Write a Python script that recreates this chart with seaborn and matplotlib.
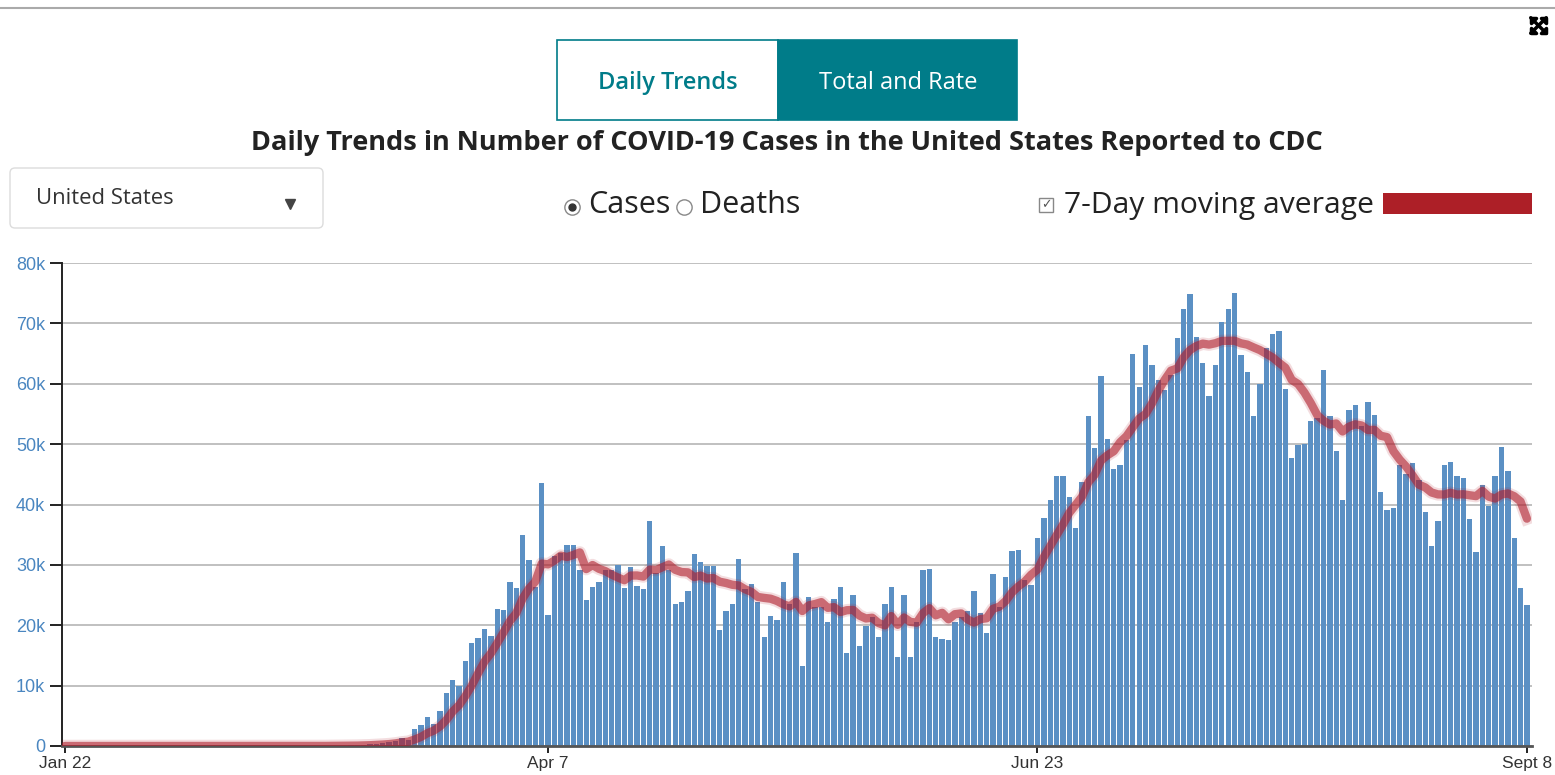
import numpy as np
import pandas as pd
import matplotlib
matplotlib.use("Agg")
import matplotlib.pyplot as plt
import seaborn as sns
from matplotlib.patches import Rectangle, FancyBboxPatch, FancyArrowPatch
from matplotlib.lines import Line2D
from matplotlib.ticker import FuncFormatter

# daily new cases, Jan 22 .. Sept 8 (thousands)
cases_k = [
    0, 0, 0, 0, 0, 0, 0, 0, 0, 0,
    0, 0, 0, 0, 0, 0, 0, 0, 0, 0,
    0, 0, 0, 0, 0, 0, 0, 0, 0, 0,
    0, 0, 0, 0, 0, 0, 0, 0, 0.01, 0.02,
    0.02, 0.03, 0.05, 0.06, 0.07, 0.1, 0.12, 0.2, 0.3, 0.4,
    0.5, 0.6, 0.9, 1.3, 1.0, 2.8, 3.4, 4.8, 3.6, 5.8,
    8.8, 10.9, 10.0, 14.0, 17.0, 17.9, 19.3, 18.3, 22.7, 22.6,
    27.1, 26.2, 34.9, 30.8, 26.4, 43.5, 21.7, 31.5, 31.9, 33.3,
    33.3, 29.2, 24.2, 26.4, 27.2, 29.2, 29.2, 29.9, 26.1, 29.6,
    26.5, 26.0, 37.3, 28.6, 33.2, 29.2, 23.5, 23.9, 25.6, 31.8,
    30.4, 29.8, 29.8, 19.2, 22.4, 23.5, 31.0, 26.0, 26.8, 23.9,
    18.1, 21.5, 20.9, 27.2, 23.5, 32.0, 13.3, 24.6, 23.1, 23.1,
    20.6, 24.3, 26.3, 15.4, 25.0, 16.5, 19.8, 21.4, 18.1, 23.6,
    26.3, 14.8, 25.0, 14.7, 20.5, 29.2, 29.3, 18.0, 17.7, 17.5,
    20.6, 21.4, 22.3, 25.6, 22.0, 18.7, 28.5, 23.1, 28.0, 32.3,
    32.5, 27.5, 26.7, 34.4, 37.7, 40.7, 44.8, 44.8, 41.2, 36.1,
    43.7, 54.6, 49.3, 61.3, 50.9, 45.9, 46.5, 50.7, 65.0, 59.4,
    66.5, 63.1, 60.7, 59.0, 61.5, 67.6, 72.3, 74.9, 67.8, 63.4,
    57.9, 63.1, 70.3, 72.4, 75.0, 64.8, 61.9, 54.6, 60.0, 66.0,
    68.2, 68.8, 59.1, 47.7, 49.9, 50.1, 53.8, 54.4, 62.2, 54.6,
    48.9, 40.7, 55.7, 56.5, 53.0, 56.9, 54.9, 42.0, 39.1, 39.4,
    46.6, 45.0, 46.9, 44.0, 38.8, 33.2, 37.2, 46.5, 47.0, 44.8,
    44.4, 37.6, 32.2, 43.3, 39.8, 44.8, 49.5, 45.6, 34.4, 26.1,
    23.4,
]
tick_dates = ["2020-01-22", "2020-04-07", "2020-06-23", "2020-09-08"]
tick_labels = ["Jan 22", "Apr 7", "Jun 23", "Sept 8"]

dates = pd.date_range("2020-01-22", periods=len(cases_k), freq="D")
df = pd.DataFrame({"date": dates, "cases": np.array(cases_k) * 1000})
df["day"] = (df["date"] - df["date"].iloc[0]).dt.days
df["avg7"] = df["cases"].rolling(7, min_periods=1).mean()
tick_pos = [(pd.Timestamp(d) - dates[0]).days for d in tick_dates]

W, H = 1555, 775
fig = plt.figure(figsize=(W / 100, H / 100), dpi=100)
ax = fig.add_axes([62 / W, (H - 746) / H, (1532 - 62) / W, (746 - 263) / H])

BAR = "#5b90c4"
RED = "#b01e2c"
TEAL = "#007c89"

sns.barplot(data=df, x="day", y="cases", native_scale=True, color=BAR,
            saturation=1, width=0.84, errorbar=None, linewidth=0, ax=ax, zorder=2)
sns.lineplot(data=df, x="day", y="avg7", color=RED, alpha=0.15, linewidth=9,
             ax=ax, zorder=3)
sns.lineplot(data=df, x="day", y="avg7", color=RED, alpha=0.6, linewidth=6,
             ax=ax, zorder=4, solid_capstyle="round")

ax.set_xlim(-0.47, 230.8)
ax.set_ylim(0, 80000)
ax.set_yticks(np.arange(0, 80001, 10000))
ax.yaxis.set_major_formatter(FuncFormatter(lambda v, p: "0" if v == 0 else f"{v / 1000:.0f}k"))
ax.set_xticks(tick_pos)
ax.set_xticklabels(tick_labels)
ax.set_xlabel("")
ax.set_ylabel("")
ax.grid(axis="y", color="#b5b5b5", linewidth=1.2, zorder=0)
ax.set_axisbelow(True)
for s in ["top", "right"]:
    ax.spines[s].set_visible(False)
ax.spines["left"].set_color("#222222")
ax.spines["left"].set_linewidth(1.4)
ax.spines["bottom"].set_color("#555555")
ax.spines["bottom"].set_linewidth(2)
ax.tick_params(axis="y", length=9, width=1.4, color="#222222", pad=3,
               labelsize=13, labelcolor="#4a86c0")
ax.tick_params(axis="x", length=5, width=1.4, color="#222222", pad=2,
               labelsize=12.5, labelcolor="#333333")
for lab in ax.get_yticklabels() + ax.get_xticklabels():
    lab.set_fontfamily("Liberation Sans")

# header widgets (pixel coords, origin top-left)
tr = fig.dpi_scale_trans


def P(x, y):
    return (x / 100, (H - y) / 100)


fig.add_artist(Line2D([0, W / 100], [(H - 8) / 100] * 2, transform=tr,
                      color="#aaaaaa", linewidth=1.5))

fig.add_artist(Rectangle(P(557, 120), 2.21, 0.80, transform=tr,
                         facecolor="white", edgecolor=TEAL, linewidth=1.2))
fig.add_artist(Rectangle(P(778, 120), 2.39, 0.80, transform=tr,
                         facecolor=TEAL, edgecolor=TEAL, linewidth=1.2))
fig.text(668 / W, 1 - 83 / H, "Daily Trends", ha="center", va="center",
         fontsize=17, color=TEAL, fontweight="semibold", family="Open Sans")
fig.text(898 / W, 1 - 83 / H, "Total and Rate", ha="center", va="center",
         fontsize=17, color="white", family="Open Sans")

fig.text(787 / W, 1 - 143 / H,
         "Daily Trends in Number of COVID-19 Cases in the United States Reported to CDC",
         ha="center", va="center", fontsize=19.5, fontweight="bold",
         color="#222222", family="Open Sans")

fig.add_artist(FancyBboxPatch(P(10, 228), 3.13, 0.60, transform=tr,
                              boxstyle="round,pad=0,rounding_size=0.05",
                              facecolor="white", edgecolor="#dcdcdc", linewidth=1))
fig.text(36 / W, 1 - 199 / H, "United States", ha="left", va="center",
         fontsize=15.8, color="#333333", family="Open Sans")
fig.add_artist(Line2D([2.90], [(H - 204) / 100], transform=tr, marker="v",
                      markersize=7, color="#444444", linestyle="none"))

fig.add_artist(Line2D([5.72], [(H - 207) / 100], transform=tr, marker="o",
                      markersize=11, markerfacecolor="white",
                      markeredgecolor="#888888", linestyle="none"))
fig.add_artist(Line2D([5.72], [(H - 207) / 100], transform=tr, marker="o",
                      markersize=5, color="#333333", linestyle="none"))
fig.text(588 / W, 1 - 205 / H, "Cases", ha="left", va="center",
         fontsize=22, color="#222222", family="Open Sans")
fig.add_artist(Line2D([6.84], [(H - 207) / 100], transform=tr, marker="o",
                      markersize=11, markerfacecolor="white",
                      markeredgecolor="#888888", linestyle="none"))
fig.text(700 / W, 1 - 205 / H, "Deaths", ha="left", va="center",
         fontsize=22, color="#222222", family="Open Sans")

fig.add_artist(Line2D([10.46], [(H - 205) / 100], transform=tr, marker="s",
                      markersize=10, markerfacecolor="white",
                      markeredgecolor="#888888", linestyle="none"))
fig.text(1046 / W, 1 - 205 / H, "✓", ha="center", va="center",
         fontsize=9, color="#555555", family="DejaVu Sans")
fig.text(1064 / W, 1 - 205 / H, "7-Day moving average", ha="left", va="center",
         fontsize=21.6, color="#222222", family="Open Sans")
fig.add_artist(Rectangle(P(1383, 214), 1.49, 0.21, transform=tr,
                         facecolor="#ad1f27", edgecolor="none"))

# expand icon
for (x0, y0, x1, y1) in [(1529, 16, 1548, 35), (1548, 16, 1529, 35)]:
    fig.add_artist(FancyArrowPatch(P(x0, y0), P(x1, y1), transform=tr,
                                   arrowstyle="<|-|>,head_length=2.5,head_width=2.5",
                                   color="black", linewidth=2.5,
                                   shrinkA=0, shrinkB=0))

fig.savefig("out.png", dpi=100)
